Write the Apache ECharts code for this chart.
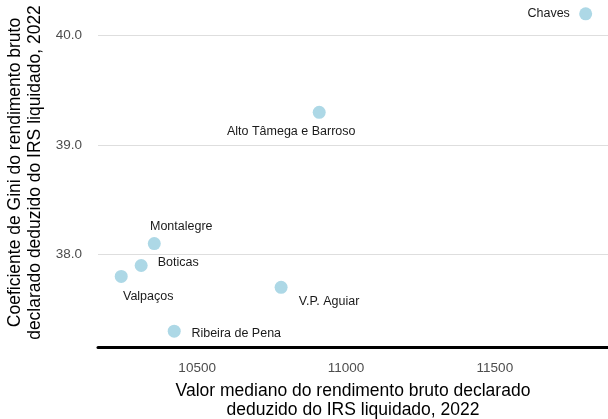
<!DOCTYPE html>
<html>
<head>
<meta charset="utf-8">
<script src="https://cdn.jsdelivr.net/npm/echarts@6/dist/echarts.min.js"></script>
<style>
  html, body { margin: 0; padding: 0; background: #fff; }
  #chart { width: 608px; height: 419px; }
</style>
</head>
<body>
<div id="chart"></div>
<script>
// municipios
const names = ['Chaves', 'Alto Tâmega e Barroso', 'Montalegre', 'Boticas', 'Valpaços', 'V.P. Aguiar', 'Ribeira de Pena']
// valor mediano do rendimento bruto declarado deduzido do IRS liquidado, 2022
const medianIncome = [11805, 10910, 10356, 10312, 10245, 10782, 10423]
// coeficiente de Gini
const gini = [40.2, 39.3, 38.1, 37.9, 37.8, 37.7, 37.3]

// posicao dos rotulos (tipo ggrepel), em px relativos ao ponto
const labelOffsets = [[-37, 0], [-28, 19], [27, -17], [37, -3], [27, 20], [48, 14], [62, 2]]

const font = 'Liberation Sans, Arial, sans-serif'

const chart = echarts.init(document.getElementById('chart'))

const points = names.map((n, i) => ({
  name: n,
  value: [medianIncome[i], gini[i]],
  label: { offset: labelOffsets[i] }
}))

chart.setOption({
  animation: false,
  grid: {
    left: 98,
    right: 0,
    top: -2,
    bottom: 72,
    containLabel: false,
    outerBoundsMode: 'none'
  },
  xAxis: {
    type: 'value',
    min: 10167,
    max: 11880,
    minInterval: 500,
    maxInterval: 500,
    name: 'Valor mediano do rendimento bruto declarado\ndeduzido do IRS liquidado, 2022',
    nameLocation: 'middle',
    nameGap: 35,
    nameTextStyle: {
      fontFamily: font,
      fontSize: 17.5,
      color: '#000',
      lineHeight: 19
    },
    axisLine: { show: true, onZero: false, lineStyle: { color: '#000', width: 3 } },
    axisTick: { show: false },
    axisLabel: {
      showMinLabel: false,
      showMaxLabel: false,
      fontFamily: font,
      fontSize: 13.5,
      color: '#4d4d4d',
      margin: 14,
      formatter: v => String(v)
    },
    splitLine: { show: false }
  },
  yAxis: {
    type: 'value',
    min: 37.155,
    max: 40.345,
    minInterval: 1,
    maxInterval: 1,
    name: 'Coeficiente de Gini do rendimento bruto\ndeclarado deduzido do IRS liquidado, 2022',
    nameLocation: 'middle',
    nameGap: 50,
    nameRotate: 90,
    nameTextStyle: {
      fontFamily: font,
      fontSize: 17.5,
      color: '#000',
      lineHeight: 20
    },
    axisLine: { show: false },
    axisTick: { show: false },
    axisLabel: {
      showMinLabel: false,
      showMaxLabel: false,
      fontFamily: font,
      fontSize: 13.5,
      color: '#4d4d4d',
      margin: 16,
      formatter: v => v.toFixed(1)
    },
    splitLine: { show: true, lineStyle: { color: '#dedede', width: 1.2 } }
  },
  series: [{
    type: 'scatter',
    data: points,
    symbolSize: 13,
    itemStyle: { color: '#add8e6', opacity: 1 },
    label: {
      show: true,
      position: 'inside',
      formatter: '{b}',
      fontFamily: font,
      fontSize: 12.5,
      color: '#1a1a1a'
    }
  }]
})
</script>
</body>
</html>
